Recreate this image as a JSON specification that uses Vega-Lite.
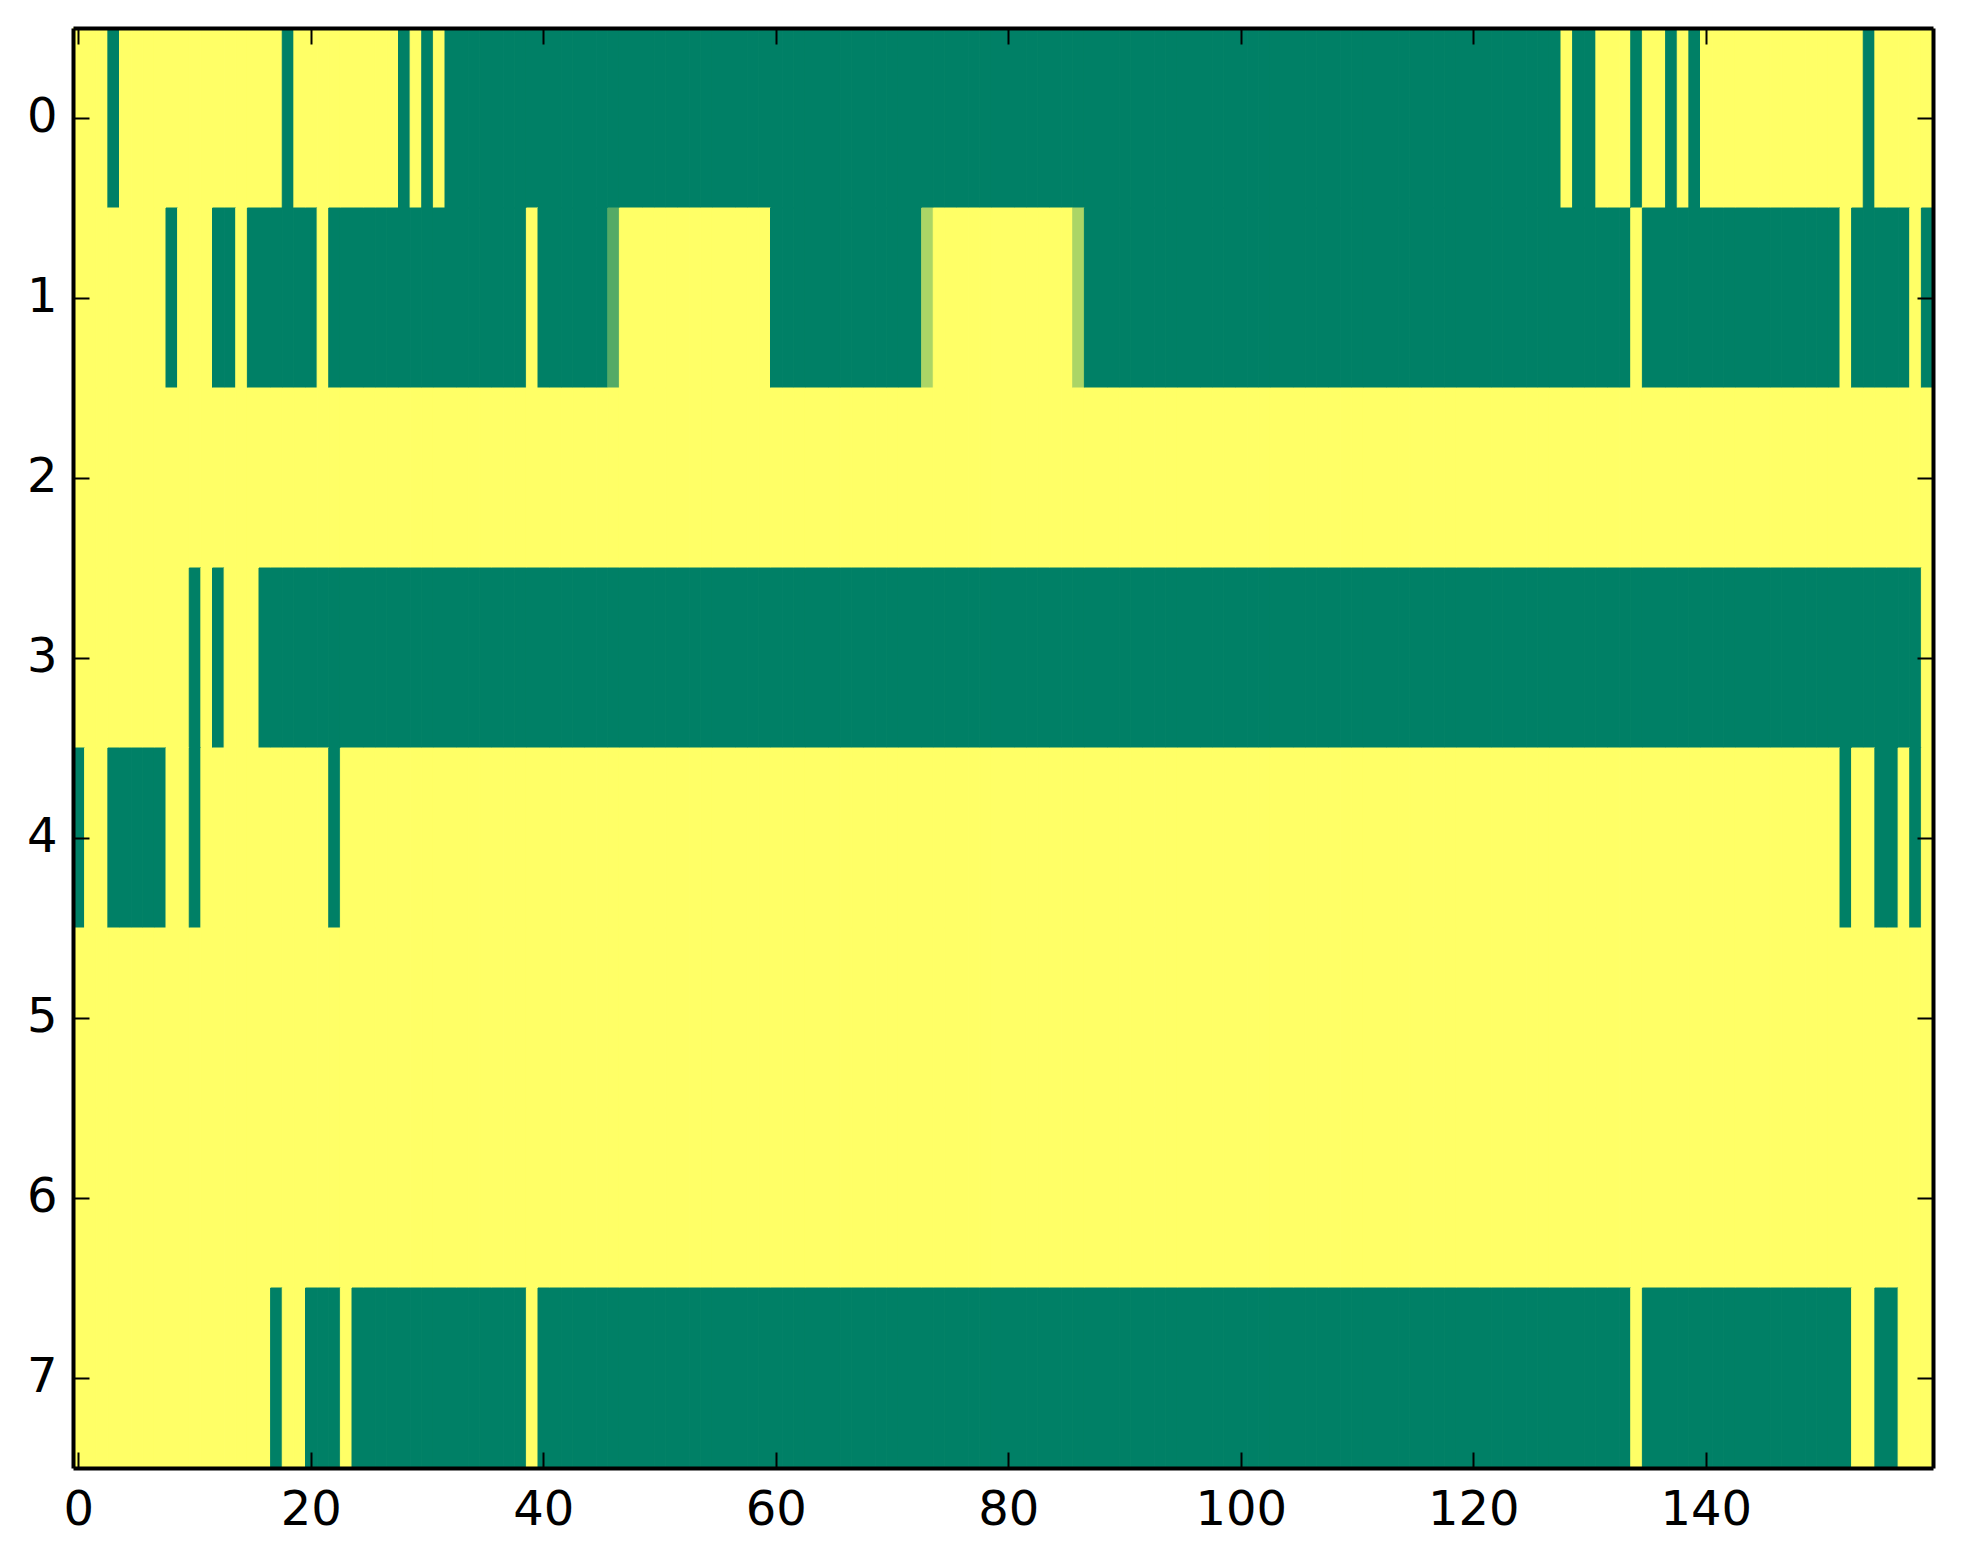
{
"$schema":"https://vega.github.io/schema/vega-lite/v6.json",
"width":1860,
"height":1440,
"autosize":"none",
"padding":{"left":73,"top":28,"right":30,"bottom":96},
"background":"#ffffff",
"config":{"view":{"stroke":null},"font":"DejaVu Sans"},
"data":{"values":[
{"r":0,"c":0,"v":0},{"r":0,"c":1,"v":0},{"r":0,"c":2,"v":0},{"r":0,"c":3,"v":1},{"r":0,"c":4,"v":0},{"r":0,"c":5,"v":0},{"r":0,"c":6,"v":0},{"r":0,"c":7,"v":0},{"r":0,"c":8,"v":0},{"r":0,"c":9,"v":0},
{"r":0,"c":10,"v":0},{"r":0,"c":11,"v":0},{"r":0,"c":12,"v":0},{"r":0,"c":13,"v":0},{"r":0,"c":14,"v":0},{"r":0,"c":15,"v":0},{"r":0,"c":16,"v":0},{"r":0,"c":17,"v":0},{"r":0,"c":18,"v":1},{"r":0,"c":19,"v":0},
{"r":0,"c":20,"v":0},{"r":0,"c":21,"v":0},{"r":0,"c":22,"v":0},{"r":0,"c":23,"v":0},{"r":0,"c":24,"v":0},{"r":0,"c":25,"v":0},{"r":0,"c":26,"v":0},{"r":0,"c":27,"v":0},{"r":0,"c":28,"v":1},{"r":0,"c":29,"v":0},
{"r":0,"c":30,"v":1},{"r":0,"c":31,"v":0},{"r":0,"c":32,"v":1},{"r":0,"c":33,"v":1},{"r":0,"c":34,"v":1},{"r":0,"c":35,"v":1},{"r":0,"c":36,"v":1},{"r":0,"c":37,"v":1},{"r":0,"c":38,"v":1},{"r":0,"c":39,"v":1},
{"r":0,"c":40,"v":1},{"r":0,"c":41,"v":1},{"r":0,"c":42,"v":1},{"r":0,"c":43,"v":1},{"r":0,"c":44,"v":1},{"r":0,"c":45,"v":1},{"r":0,"c":46,"v":1},{"r":0,"c":47,"v":1},{"r":0,"c":48,"v":1},{"r":0,"c":49,"v":1},
{"r":0,"c":50,"v":1},{"r":0,"c":51,"v":1},{"r":0,"c":52,"v":1},{"r":0,"c":53,"v":1},{"r":0,"c":54,"v":1},{"r":0,"c":55,"v":1},{"r":0,"c":56,"v":1},{"r":0,"c":57,"v":1},{"r":0,"c":58,"v":1},{"r":0,"c":59,"v":1},
{"r":0,"c":60,"v":1},{"r":0,"c":61,"v":1},{"r":0,"c":62,"v":1},{"r":0,"c":63,"v":1},{"r":0,"c":64,"v":1},{"r":0,"c":65,"v":1},{"r":0,"c":66,"v":1},{"r":0,"c":67,"v":1},{"r":0,"c":68,"v":1},{"r":0,"c":69,"v":1},
{"r":0,"c":70,"v":1},{"r":0,"c":71,"v":1},{"r":0,"c":72,"v":1},{"r":0,"c":73,"v":1},{"r":0,"c":74,"v":1},{"r":0,"c":75,"v":1},{"r":0,"c":76,"v":1},{"r":0,"c":77,"v":1},{"r":0,"c":78,"v":1},{"r":0,"c":79,"v":1},
{"r":0,"c":80,"v":1},{"r":0,"c":81,"v":1},{"r":0,"c":82,"v":1},{"r":0,"c":83,"v":1},{"r":0,"c":84,"v":1},{"r":0,"c":85,"v":1},{"r":0,"c":86,"v":1},{"r":0,"c":87,"v":1},{"r":0,"c":88,"v":1},{"r":0,"c":89,"v":1},
{"r":0,"c":90,"v":1},{"r":0,"c":91,"v":1},{"r":0,"c":92,"v":1},{"r":0,"c":93,"v":1},{"r":0,"c":94,"v":1},{"r":0,"c":95,"v":1},{"r":0,"c":96,"v":1},{"r":0,"c":97,"v":1},{"r":0,"c":98,"v":1},{"r":0,"c":99,"v":1},
{"r":0,"c":100,"v":1},{"r":0,"c":101,"v":1},{"r":0,"c":102,"v":1},{"r":0,"c":103,"v":1},{"r":0,"c":104,"v":1},{"r":0,"c":105,"v":1},{"r":0,"c":106,"v":1},{"r":0,"c":107,"v":1},{"r":0,"c":108,"v":1},{"r":0,"c":109,"v":1},
{"r":0,"c":110,"v":1},{"r":0,"c":111,"v":1},{"r":0,"c":112,"v":1},{"r":0,"c":113,"v":1},{"r":0,"c":114,"v":1},{"r":0,"c":115,"v":1},{"r":0,"c":116,"v":1},{"r":0,"c":117,"v":1},{"r":0,"c":118,"v":1},{"r":0,"c":119,"v":1},
{"r":0,"c":120,"v":1},{"r":0,"c":121,"v":1},{"r":0,"c":122,"v":1},{"r":0,"c":123,"v":1},{"r":0,"c":124,"v":1},{"r":0,"c":125,"v":1},{"r":0,"c":126,"v":1},{"r":0,"c":127,"v":1},{"r":0,"c":128,"v":0},{"r":0,"c":129,"v":1},
{"r":0,"c":130,"v":1},{"r":0,"c":131,"v":0},{"r":0,"c":132,"v":0},{"r":0,"c":133,"v":0},{"r":0,"c":134,"v":1},{"r":0,"c":135,"v":0},{"r":0,"c":136,"v":0},{"r":0,"c":137,"v":1},{"r":0,"c":138,"v":0},{"r":0,"c":139,"v":1},
{"r":0,"c":140,"v":0},{"r":0,"c":141,"v":0},{"r":0,"c":142,"v":0},{"r":0,"c":143,"v":0},{"r":0,"c":144,"v":0},{"r":0,"c":145,"v":0},{"r":0,"c":146,"v":0},{"r":0,"c":147,"v":0},{"r":0,"c":148,"v":0},{"r":0,"c":149,"v":0},
{"r":0,"c":150,"v":0},{"r":0,"c":151,"v":0},{"r":0,"c":152,"v":0},{"r":0,"c":153,"v":0},{"r":0,"c":154,"v":1},{"r":0,"c":155,"v":0},{"r":0,"c":156,"v":0},{"r":0,"c":157,"v":0},{"r":0,"c":158,"v":0},{"r":0,"c":159,"v":0},
{"r":1,"c":0,"v":0},{"r":1,"c":1,"v":0},{"r":1,"c":2,"v":0},{"r":1,"c":3,"v":0},{"r":1,"c":4,"v":0},{"r":1,"c":5,"v":0},{"r":1,"c":6,"v":0},{"r":1,"c":7,"v":0},{"r":1,"c":8,"v":1},{"r":1,"c":9,"v":0},
{"r":1,"c":10,"v":0},{"r":1,"c":11,"v":0},{"r":1,"c":12,"v":1},{"r":1,"c":13,"v":1},{"r":1,"c":14,"v":0},{"r":1,"c":15,"v":1},{"r":1,"c":16,"v":1},{"r":1,"c":17,"v":1},{"r":1,"c":18,"v":1},{"r":1,"c":19,"v":1},
{"r":1,"c":20,"v":1},{"r":1,"c":21,"v":0},{"r":1,"c":22,"v":1},{"r":1,"c":23,"v":1},{"r":1,"c":24,"v":1},{"r":1,"c":25,"v":1},{"r":1,"c":26,"v":1},{"r":1,"c":27,"v":1},{"r":1,"c":28,"v":1},{"r":1,"c":29,"v":1},
{"r":1,"c":30,"v":1},{"r":1,"c":31,"v":1},{"r":1,"c":32,"v":1},{"r":1,"c":33,"v":1},{"r":1,"c":34,"v":1},{"r":1,"c":35,"v":1},{"r":1,"c":36,"v":1},{"r":1,"c":37,"v":1},{"r":1,"c":38,"v":1},{"r":1,"c":39,"v":0},
{"r":1,"c":40,"v":1},{"r":1,"c":41,"v":1},{"r":1,"c":42,"v":1},{"r":1,"c":43,"v":1},{"r":1,"c":44,"v":1},{"r":1,"c":45,"v":1},{"r":1,"c":46,"v":0.67},{"r":1,"c":47,"v":0},{"r":1,"c":48,"v":0},{"r":1,"c":49,"v":0},
{"r":1,"c":50,"v":0},{"r":1,"c":51,"v":0},{"r":1,"c":52,"v":0},{"r":1,"c":53,"v":0},{"r":1,"c":54,"v":0},{"r":1,"c":55,"v":0},{"r":1,"c":56,"v":0},{"r":1,"c":57,"v":0},{"r":1,"c":58,"v":0},{"r":1,"c":59,"v":0},
{"r":1,"c":60,"v":1},{"r":1,"c":61,"v":1},{"r":1,"c":62,"v":1},{"r":1,"c":63,"v":1},{"r":1,"c":64,"v":1},{"r":1,"c":65,"v":1},{"r":1,"c":66,"v":1},{"r":1,"c":67,"v":1},{"r":1,"c":68,"v":1},{"r":1,"c":69,"v":1},
{"r":1,"c":70,"v":1},{"r":1,"c":71,"v":1},{"r":1,"c":72,"v":1},{"r":1,"c":73,"v":0.33},{"r":1,"c":74,"v":0},{"r":1,"c":75,"v":0},{"r":1,"c":76,"v":0},{"r":1,"c":77,"v":0},{"r":1,"c":78,"v":0},{"r":1,"c":79,"v":0},
{"r":1,"c":80,"v":0},{"r":1,"c":81,"v":0},{"r":1,"c":82,"v":0},{"r":1,"c":83,"v":0},{"r":1,"c":84,"v":0},{"r":1,"c":85,"v":0},{"r":1,"c":86,"v":0.33},{"r":1,"c":87,"v":1},{"r":1,"c":88,"v":1},{"r":1,"c":89,"v":1},
{"r":1,"c":90,"v":1},{"r":1,"c":91,"v":1},{"r":1,"c":92,"v":1},{"r":1,"c":93,"v":1},{"r":1,"c":94,"v":1},{"r":1,"c":95,"v":1},{"r":1,"c":96,"v":1},{"r":1,"c":97,"v":1},{"r":1,"c":98,"v":1},{"r":1,"c":99,"v":1},
{"r":1,"c":100,"v":1},{"r":1,"c":101,"v":1},{"r":1,"c":102,"v":1},{"r":1,"c":103,"v":1},{"r":1,"c":104,"v":1},{"r":1,"c":105,"v":1},{"r":1,"c":106,"v":1},{"r":1,"c":107,"v":1},{"r":1,"c":108,"v":1},{"r":1,"c":109,"v":1},
{"r":1,"c":110,"v":1},{"r":1,"c":111,"v":1},{"r":1,"c":112,"v":1},{"r":1,"c":113,"v":1},{"r":1,"c":114,"v":1},{"r":1,"c":115,"v":1},{"r":1,"c":116,"v":1},{"r":1,"c":117,"v":1},{"r":1,"c":118,"v":1},{"r":1,"c":119,"v":1},
{"r":1,"c":120,"v":1},{"r":1,"c":121,"v":1},{"r":1,"c":122,"v":1},{"r":1,"c":123,"v":1},{"r":1,"c":124,"v":1},{"r":1,"c":125,"v":1},{"r":1,"c":126,"v":1},{"r":1,"c":127,"v":1},{"r":1,"c":128,"v":1},{"r":1,"c":129,"v":1},
{"r":1,"c":130,"v":1},{"r":1,"c":131,"v":1},{"r":1,"c":132,"v":1},{"r":1,"c":133,"v":1},{"r":1,"c":134,"v":0},{"r":1,"c":135,"v":1},{"r":1,"c":136,"v":1},{"r":1,"c":137,"v":1},{"r":1,"c":138,"v":1},{"r":1,"c":139,"v":1},
{"r":1,"c":140,"v":1},{"r":1,"c":141,"v":1},{"r":1,"c":142,"v":1},{"r":1,"c":143,"v":1},{"r":1,"c":144,"v":1},{"r":1,"c":145,"v":1},{"r":1,"c":146,"v":1},{"r":1,"c":147,"v":1},{"r":1,"c":148,"v":1},{"r":1,"c":149,"v":1},
{"r":1,"c":150,"v":1},{"r":1,"c":151,"v":1},{"r":1,"c":152,"v":0},{"r":1,"c":153,"v":1},{"r":1,"c":154,"v":1},{"r":1,"c":155,"v":1},{"r":1,"c":156,"v":1},{"r":1,"c":157,"v":1},{"r":1,"c":158,"v":0},{"r":1,"c":159,"v":1},
{"r":2,"c":0,"v":0},{"r":2,"c":1,"v":0},{"r":2,"c":2,"v":0},{"r":2,"c":3,"v":0},{"r":2,"c":4,"v":0},{"r":2,"c":5,"v":0},{"r":2,"c":6,"v":0},{"r":2,"c":7,"v":0},{"r":2,"c":8,"v":0},{"r":2,"c":9,"v":0},
{"r":2,"c":10,"v":0},{"r":2,"c":11,"v":0},{"r":2,"c":12,"v":0},{"r":2,"c":13,"v":0},{"r":2,"c":14,"v":0},{"r":2,"c":15,"v":0},{"r":2,"c":16,"v":0},{"r":2,"c":17,"v":0},{"r":2,"c":18,"v":0},{"r":2,"c":19,"v":0},
{"r":2,"c":20,"v":0},{"r":2,"c":21,"v":0},{"r":2,"c":22,"v":0},{"r":2,"c":23,"v":0},{"r":2,"c":24,"v":0},{"r":2,"c":25,"v":0},{"r":2,"c":26,"v":0},{"r":2,"c":27,"v":0},{"r":2,"c":28,"v":0},{"r":2,"c":29,"v":0},
{"r":2,"c":30,"v":0},{"r":2,"c":31,"v":0},{"r":2,"c":32,"v":0},{"r":2,"c":33,"v":0},{"r":2,"c":34,"v":0},{"r":2,"c":35,"v":0},{"r":2,"c":36,"v":0},{"r":2,"c":37,"v":0},{"r":2,"c":38,"v":0},{"r":2,"c":39,"v":0},
{"r":2,"c":40,"v":0},{"r":2,"c":41,"v":0},{"r":2,"c":42,"v":0},{"r":2,"c":43,"v":0},{"r":2,"c":44,"v":0},{"r":2,"c":45,"v":0},{"r":2,"c":46,"v":0},{"r":2,"c":47,"v":0},{"r":2,"c":48,"v":0},{"r":2,"c":49,"v":0},
{"r":2,"c":50,"v":0},{"r":2,"c":51,"v":0},{"r":2,"c":52,"v":0},{"r":2,"c":53,"v":0},{"r":2,"c":54,"v":0},{"r":2,"c":55,"v":0},{"r":2,"c":56,"v":0},{"r":2,"c":57,"v":0},{"r":2,"c":58,"v":0},{"r":2,"c":59,"v":0},
{"r":2,"c":60,"v":0},{"r":2,"c":61,"v":0},{"r":2,"c":62,"v":0},{"r":2,"c":63,"v":0},{"r":2,"c":64,"v":0},{"r":2,"c":65,"v":0},{"r":2,"c":66,"v":0},{"r":2,"c":67,"v":0},{"r":2,"c":68,"v":0},{"r":2,"c":69,"v":0},
{"r":2,"c":70,"v":0},{"r":2,"c":71,"v":0},{"r":2,"c":72,"v":0},{"r":2,"c":73,"v":0},{"r":2,"c":74,"v":0},{"r":2,"c":75,"v":0},{"r":2,"c":76,"v":0},{"r":2,"c":77,"v":0},{"r":2,"c":78,"v":0},{"r":2,"c":79,"v":0},
{"r":2,"c":80,"v":0},{"r":2,"c":81,"v":0},{"r":2,"c":82,"v":0},{"r":2,"c":83,"v":0},{"r":2,"c":84,"v":0},{"r":2,"c":85,"v":0},{"r":2,"c":86,"v":0},{"r":2,"c":87,"v":0},{"r":2,"c":88,"v":0},{"r":2,"c":89,"v":0},
{"r":2,"c":90,"v":0},{"r":2,"c":91,"v":0},{"r":2,"c":92,"v":0},{"r":2,"c":93,"v":0},{"r":2,"c":94,"v":0},{"r":2,"c":95,"v":0},{"r":2,"c":96,"v":0},{"r":2,"c":97,"v":0},{"r":2,"c":98,"v":0},{"r":2,"c":99,"v":0},
{"r":2,"c":100,"v":0},{"r":2,"c":101,"v":0},{"r":2,"c":102,"v":0},{"r":2,"c":103,"v":0},{"r":2,"c":104,"v":0},{"r":2,"c":105,"v":0},{"r":2,"c":106,"v":0},{"r":2,"c":107,"v":0},{"r":2,"c":108,"v":0},{"r":2,"c":109,"v":0},
{"r":2,"c":110,"v":0},{"r":2,"c":111,"v":0},{"r":2,"c":112,"v":0},{"r":2,"c":113,"v":0},{"r":2,"c":114,"v":0},{"r":2,"c":115,"v":0},{"r":2,"c":116,"v":0},{"r":2,"c":117,"v":0},{"r":2,"c":118,"v":0},{"r":2,"c":119,"v":0},
{"r":2,"c":120,"v":0},{"r":2,"c":121,"v":0},{"r":2,"c":122,"v":0},{"r":2,"c":123,"v":0},{"r":2,"c":124,"v":0},{"r":2,"c":125,"v":0},{"r":2,"c":126,"v":0},{"r":2,"c":127,"v":0},{"r":2,"c":128,"v":0},{"r":2,"c":129,"v":0},
{"r":2,"c":130,"v":0},{"r":2,"c":131,"v":0},{"r":2,"c":132,"v":0},{"r":2,"c":133,"v":0},{"r":2,"c":134,"v":0},{"r":2,"c":135,"v":0},{"r":2,"c":136,"v":0},{"r":2,"c":137,"v":0},{"r":2,"c":138,"v":0},{"r":2,"c":139,"v":0},
{"r":2,"c":140,"v":0},{"r":2,"c":141,"v":0},{"r":2,"c":142,"v":0},{"r":2,"c":143,"v":0},{"r":2,"c":144,"v":0},{"r":2,"c":145,"v":0},{"r":2,"c":146,"v":0},{"r":2,"c":147,"v":0},{"r":2,"c":148,"v":0},{"r":2,"c":149,"v":0},
{"r":2,"c":150,"v":0},{"r":2,"c":151,"v":0},{"r":2,"c":152,"v":0},{"r":2,"c":153,"v":0},{"r":2,"c":154,"v":0},{"r":2,"c":155,"v":0},{"r":2,"c":156,"v":0},{"r":2,"c":157,"v":0},{"r":2,"c":158,"v":0},{"r":2,"c":159,"v":0},
{"r":3,"c":0,"v":0},{"r":3,"c":1,"v":0},{"r":3,"c":2,"v":0},{"r":3,"c":3,"v":0},{"r":3,"c":4,"v":0},{"r":3,"c":5,"v":0},{"r":3,"c":6,"v":0},{"r":3,"c":7,"v":0},{"r":3,"c":8,"v":0},{"r":3,"c":9,"v":0},
{"r":3,"c":10,"v":1},{"r":3,"c":11,"v":0},{"r":3,"c":12,"v":1},{"r":3,"c":13,"v":0},{"r":3,"c":14,"v":0},{"r":3,"c":15,"v":0},{"r":3,"c":16,"v":1},{"r":3,"c":17,"v":1},{"r":3,"c":18,"v":1},{"r":3,"c":19,"v":1},
{"r":3,"c":20,"v":1},{"r":3,"c":21,"v":1},{"r":3,"c":22,"v":1},{"r":3,"c":23,"v":1},{"r":3,"c":24,"v":1},{"r":3,"c":25,"v":1},{"r":3,"c":26,"v":1},{"r":3,"c":27,"v":1},{"r":3,"c":28,"v":1},{"r":3,"c":29,"v":1},
{"r":3,"c":30,"v":1},{"r":3,"c":31,"v":1},{"r":3,"c":32,"v":1},{"r":3,"c":33,"v":1},{"r":3,"c":34,"v":1},{"r":3,"c":35,"v":1},{"r":3,"c":36,"v":1},{"r":3,"c":37,"v":1},{"r":3,"c":38,"v":1},{"r":3,"c":39,"v":1},
{"r":3,"c":40,"v":1},{"r":3,"c":41,"v":1},{"r":3,"c":42,"v":1},{"r":3,"c":43,"v":1},{"r":3,"c":44,"v":1},{"r":3,"c":45,"v":1},{"r":3,"c":46,"v":1},{"r":3,"c":47,"v":1},{"r":3,"c":48,"v":1},{"r":3,"c":49,"v":1},
{"r":3,"c":50,"v":1},{"r":3,"c":51,"v":1},{"r":3,"c":52,"v":1},{"r":3,"c":53,"v":1},{"r":3,"c":54,"v":1},{"r":3,"c":55,"v":1},{"r":3,"c":56,"v":1},{"r":3,"c":57,"v":1},{"r":3,"c":58,"v":1},{"r":3,"c":59,"v":1},
{"r":3,"c":60,"v":1},{"r":3,"c":61,"v":1},{"r":3,"c":62,"v":1},{"r":3,"c":63,"v":1},{"r":3,"c":64,"v":1},{"r":3,"c":65,"v":1},{"r":3,"c":66,"v":1},{"r":3,"c":67,"v":1},{"r":3,"c":68,"v":1},{"r":3,"c":69,"v":1},
{"r":3,"c":70,"v":1},{"r":3,"c":71,"v":1},{"r":3,"c":72,"v":1},{"r":3,"c":73,"v":1},{"r":3,"c":74,"v":1},{"r":3,"c":75,"v":1},{"r":3,"c":76,"v":1},{"r":3,"c":77,"v":1},{"r":3,"c":78,"v":1},{"r":3,"c":79,"v":1},
{"r":3,"c":80,"v":1},{"r":3,"c":81,"v":1},{"r":3,"c":82,"v":1},{"r":3,"c":83,"v":1},{"r":3,"c":84,"v":1},{"r":3,"c":85,"v":1},{"r":3,"c":86,"v":1},{"r":3,"c":87,"v":1},{"r":3,"c":88,"v":1},{"r":3,"c":89,"v":1},
{"r":3,"c":90,"v":1},{"r":3,"c":91,"v":1},{"r":3,"c":92,"v":1},{"r":3,"c":93,"v":1},{"r":3,"c":94,"v":1},{"r":3,"c":95,"v":1},{"r":3,"c":96,"v":1},{"r":3,"c":97,"v":1},{"r":3,"c":98,"v":1},{"r":3,"c":99,"v":1},
{"r":3,"c":100,"v":1},{"r":3,"c":101,"v":1},{"r":3,"c":102,"v":1},{"r":3,"c":103,"v":1},{"r":3,"c":104,"v":1},{"r":3,"c":105,"v":1},{"r":3,"c":106,"v":1},{"r":3,"c":107,"v":1},{"r":3,"c":108,"v":1},{"r":3,"c":109,"v":1},
{"r":3,"c":110,"v":1},{"r":3,"c":111,"v":1},{"r":3,"c":112,"v":1},{"r":3,"c":113,"v":1},{"r":3,"c":114,"v":1},{"r":3,"c":115,"v":1},{"r":3,"c":116,"v":1},{"r":3,"c":117,"v":1},{"r":3,"c":118,"v":1},{"r":3,"c":119,"v":1},
{"r":3,"c":120,"v":1},{"r":3,"c":121,"v":1},{"r":3,"c":122,"v":1},{"r":3,"c":123,"v":1},{"r":3,"c":124,"v":1},{"r":3,"c":125,"v":1},{"r":3,"c":126,"v":1},{"r":3,"c":127,"v":1},{"r":3,"c":128,"v":1},{"r":3,"c":129,"v":1},
{"r":3,"c":130,"v":1},{"r":3,"c":131,"v":1},{"r":3,"c":132,"v":1},{"r":3,"c":133,"v":1},{"r":3,"c":134,"v":1},{"r":3,"c":135,"v":1},{"r":3,"c":136,"v":1},{"r":3,"c":137,"v":1},{"r":3,"c":138,"v":1},{"r":3,"c":139,"v":1},
{"r":3,"c":140,"v":1},{"r":3,"c":141,"v":1},{"r":3,"c":142,"v":1},{"r":3,"c":143,"v":1},{"r":3,"c":144,"v":1},{"r":3,"c":145,"v":1},{"r":3,"c":146,"v":1},{"r":3,"c":147,"v":1},{"r":3,"c":148,"v":1},{"r":3,"c":149,"v":1},
{"r":3,"c":150,"v":1},{"r":3,"c":151,"v":1},{"r":3,"c":152,"v":1},{"r":3,"c":153,"v":1},{"r":3,"c":154,"v":1},{"r":3,"c":155,"v":1},{"r":3,"c":156,"v":1},{"r":3,"c":157,"v":1},{"r":3,"c":158,"v":1},{"r":3,"c":159,"v":0},
{"r":4,"c":0,"v":1},{"r":4,"c":1,"v":0},{"r":4,"c":2,"v":0},{"r":4,"c":3,"v":1},{"r":4,"c":4,"v":1},{"r":4,"c":5,"v":1},{"r":4,"c":6,"v":1},{"r":4,"c":7,"v":1},{"r":4,"c":8,"v":0},{"r":4,"c":9,"v":0},
{"r":4,"c":10,"v":1},{"r":4,"c":11,"v":0},{"r":4,"c":12,"v":0},{"r":4,"c":13,"v":0},{"r":4,"c":14,"v":0},{"r":4,"c":15,"v":0},{"r":4,"c":16,"v":0},{"r":4,"c":17,"v":0},{"r":4,"c":18,"v":0},{"r":4,"c":19,"v":0},
{"r":4,"c":20,"v":0},{"r":4,"c":21,"v":0},{"r":4,"c":22,"v":1},{"r":4,"c":23,"v":0},{"r":4,"c":24,"v":0},{"r":4,"c":25,"v":0},{"r":4,"c":26,"v":0},{"r":4,"c":27,"v":0},{"r":4,"c":28,"v":0},{"r":4,"c":29,"v":0},
{"r":4,"c":30,"v":0},{"r":4,"c":31,"v":0},{"r":4,"c":32,"v":0},{"r":4,"c":33,"v":0},{"r":4,"c":34,"v":0},{"r":4,"c":35,"v":0},{"r":4,"c":36,"v":0},{"r":4,"c":37,"v":0},{"r":4,"c":38,"v":0},{"r":4,"c":39,"v":0},
{"r":4,"c":40,"v":0},{"r":4,"c":41,"v":0},{"r":4,"c":42,"v":0},{"r":4,"c":43,"v":0},{"r":4,"c":44,"v":0},{"r":4,"c":45,"v":0},{"r":4,"c":46,"v":0},{"r":4,"c":47,"v":0},{"r":4,"c":48,"v":0},{"r":4,"c":49,"v":0},
{"r":4,"c":50,"v":0},{"r":4,"c":51,"v":0},{"r":4,"c":52,"v":0},{"r":4,"c":53,"v":0},{"r":4,"c":54,"v":0},{"r":4,"c":55,"v":0},{"r":4,"c":56,"v":0},{"r":4,"c":57,"v":0},{"r":4,"c":58,"v":0},{"r":4,"c":59,"v":0},
{"r":4,"c":60,"v":0},{"r":4,"c":61,"v":0},{"r":4,"c":62,"v":0},{"r":4,"c":63,"v":0},{"r":4,"c":64,"v":0},{"r":4,"c":65,"v":0},{"r":4,"c":66,"v":0},{"r":4,"c":67,"v":0},{"r":4,"c":68,"v":0},{"r":4,"c":69,"v":0},
{"r":4,"c":70,"v":0},{"r":4,"c":71,"v":0},{"r":4,"c":72,"v":0},{"r":4,"c":73,"v":0},{"r":4,"c":74,"v":0},{"r":4,"c":75,"v":0},{"r":4,"c":76,"v":0},{"r":4,"c":77,"v":0},{"r":4,"c":78,"v":0},{"r":4,"c":79,"v":0},
{"r":4,"c":80,"v":0},{"r":4,"c":81,"v":0},{"r":4,"c":82,"v":0},{"r":4,"c":83,"v":0},{"r":4,"c":84,"v":0},{"r":4,"c":85,"v":0},{"r":4,"c":86,"v":0},{"r":4,"c":87,"v":0},{"r":4,"c":88,"v":0},{"r":4,"c":89,"v":0},
{"r":4,"c":90,"v":0},{"r":4,"c":91,"v":0},{"r":4,"c":92,"v":0},{"r":4,"c":93,"v":0},{"r":4,"c":94,"v":0},{"r":4,"c":95,"v":0},{"r":4,"c":96,"v":0},{"r":4,"c":97,"v":0},{"r":4,"c":98,"v":0},{"r":4,"c":99,"v":0},
{"r":4,"c":100,"v":0},{"r":4,"c":101,"v":0},{"r":4,"c":102,"v":0},{"r":4,"c":103,"v":0},{"r":4,"c":104,"v":0},{"r":4,"c":105,"v":0},{"r":4,"c":106,"v":0},{"r":4,"c":107,"v":0},{"r":4,"c":108,"v":0},{"r":4,"c":109,"v":0},
{"r":4,"c":110,"v":0},{"r":4,"c":111,"v":0},{"r":4,"c":112,"v":0},{"r":4,"c":113,"v":0},{"r":4,"c":114,"v":0},{"r":4,"c":115,"v":0},{"r":4,"c":116,"v":0},{"r":4,"c":117,"v":0},{"r":4,"c":118,"v":0},{"r":4,"c":119,"v":0},
{"r":4,"c":120,"v":0},{"r":4,"c":121,"v":0},{"r":4,"c":122,"v":0},{"r":4,"c":123,"v":0},{"r":4,"c":124,"v":0},{"r":4,"c":125,"v":0},{"r":4,"c":126,"v":0},{"r":4,"c":127,"v":0},{"r":4,"c":128,"v":0},{"r":4,"c":129,"v":0},
{"r":4,"c":130,"v":0},{"r":4,"c":131,"v":0},{"r":4,"c":132,"v":0},{"r":4,"c":133,"v":0},{"r":4,"c":134,"v":0},{"r":4,"c":135,"v":0},{"r":4,"c":136,"v":0},{"r":4,"c":137,"v":0},{"r":4,"c":138,"v":0},{"r":4,"c":139,"v":0},
{"r":4,"c":140,"v":0},{"r":4,"c":141,"v":0},{"r":4,"c":142,"v":0},{"r":4,"c":143,"v":0},{"r":4,"c":144,"v":0},{"r":4,"c":145,"v":0},{"r":4,"c":146,"v":0},{"r":4,"c":147,"v":0},{"r":4,"c":148,"v":0},{"r":4,"c":149,"v":0},
{"r":4,"c":150,"v":0},{"r":4,"c":151,"v":0},{"r":4,"c":152,"v":1},{"r":4,"c":153,"v":0},{"r":4,"c":154,"v":0},{"r":4,"c":155,"v":1},{"r":4,"c":156,"v":1},{"r":4,"c":157,"v":0},{"r":4,"c":158,"v":1},{"r":4,"c":159,"v":0},
{"r":5,"c":0,"v":0},{"r":5,"c":1,"v":0},{"r":5,"c":2,"v":0},{"r":5,"c":3,"v":0},{"r":5,"c":4,"v":0},{"r":5,"c":5,"v":0},{"r":5,"c":6,"v":0},{"r":5,"c":7,"v":0},{"r":5,"c":8,"v":0},{"r":5,"c":9,"v":0},
{"r":5,"c":10,"v":0},{"r":5,"c":11,"v":0},{"r":5,"c":12,"v":0},{"r":5,"c":13,"v":0},{"r":5,"c":14,"v":0},{"r":5,"c":15,"v":0},{"r":5,"c":16,"v":0},{"r":5,"c":17,"v":0},{"r":5,"c":18,"v":0},{"r":5,"c":19,"v":0},
{"r":5,"c":20,"v":0},{"r":5,"c":21,"v":0},{"r":5,"c":22,"v":0},{"r":5,"c":23,"v":0},{"r":5,"c":24,"v":0},{"r":5,"c":25,"v":0},{"r":5,"c":26,"v":0},{"r":5,"c":27,"v":0},{"r":5,"c":28,"v":0},{"r":5,"c":29,"v":0},
{"r":5,"c":30,"v":0},{"r":5,"c":31,"v":0},{"r":5,"c":32,"v":0},{"r":5,"c":33,"v":0},{"r":5,"c":34,"v":0},{"r":5,"c":35,"v":0},{"r":5,"c":36,"v":0},{"r":5,"c":37,"v":0},{"r":5,"c":38,"v":0},{"r":5,"c":39,"v":0},
{"r":5,"c":40,"v":0},{"r":5,"c":41,"v":0},{"r":5,"c":42,"v":0},{"r":5,"c":43,"v":0},{"r":5,"c":44,"v":0},{"r":5,"c":45,"v":0},{"r":5,"c":46,"v":0},{"r":5,"c":47,"v":0},{"r":5,"c":48,"v":0},{"r":5,"c":49,"v":0},
{"r":5,"c":50,"v":0},{"r":5,"c":51,"v":0},{"r":5,"c":52,"v":0},{"r":5,"c":53,"v":0},{"r":5,"c":54,"v":0},{"r":5,"c":55,"v":0},{"r":5,"c":56,"v":0},{"r":5,"c":57,"v":0},{"r":5,"c":58,"v":0},{"r":5,"c":59,"v":0},
{"r":5,"c":60,"v":0},{"r":5,"c":61,"v":0},{"r":5,"c":62,"v":0},{"r":5,"c":63,"v":0},{"r":5,"c":64,"v":0},{"r":5,"c":65,"v":0},{"r":5,"c":66,"v":0},{"r":5,"c":67,"v":0},{"r":5,"c":68,"v":0},{"r":5,"c":69,"v":0},
{"r":5,"c":70,"v":0},{"r":5,"c":71,"v":0},{"r":5,"c":72,"v":0},{"r":5,"c":73,"v":0},{"r":5,"c":74,"v":0},{"r":5,"c":75,"v":0},{"r":5,"c":76,"v":0},{"r":5,"c":77,"v":0},{"r":5,"c":78,"v":0},{"r":5,"c":79,"v":0},
{"r":5,"c":80,"v":0},{"r":5,"c":81,"v":0},{"r":5,"c":82,"v":0},{"r":5,"c":83,"v":0},{"r":5,"c":84,"v":0},{"r":5,"c":85,"v":0},{"r":5,"c":86,"v":0},{"r":5,"c":87,"v":0},{"r":5,"c":88,"v":0},{"r":5,"c":89,"v":0},
{"r":5,"c":90,"v":0},{"r":5,"c":91,"v":0},{"r":5,"c":92,"v":0},{"r":5,"c":93,"v":0},{"r":5,"c":94,"v":0},{"r":5,"c":95,"v":0},{"r":5,"c":96,"v":0},{"r":5,"c":97,"v":0},{"r":5,"c":98,"v":0},{"r":5,"c":99,"v":0},
{"r":5,"c":100,"v":0},{"r":5,"c":101,"v":0},{"r":5,"c":102,"v":0},{"r":5,"c":103,"v":0},{"r":5,"c":104,"v":0},{"r":5,"c":105,"v":0},{"r":5,"c":106,"v":0},{"r":5,"c":107,"v":0},{"r":5,"c":108,"v":0},{"r":5,"c":109,"v":0},
{"r":5,"c":110,"v":0},{"r":5,"c":111,"v":0},{"r":5,"c":112,"v":0},{"r":5,"c":113,"v":0},{"r":5,"c":114,"v":0},{"r":5,"c":115,"v":0},{"r":5,"c":116,"v":0},{"r":5,"c":117,"v":0},{"r":5,"c":118,"v":0},{"r":5,"c":119,"v":0},
{"r":5,"c":120,"v":0},{"r":5,"c":121,"v":0},{"r":5,"c":122,"v":0},{"r":5,"c":123,"v":0},{"r":5,"c":124,"v":0},{"r":5,"c":125,"v":0},{"r":5,"c":126,"v":0},{"r":5,"c":127,"v":0},{"r":5,"c":128,"v":0},{"r":5,"c":129,"v":0},
{"r":5,"c":130,"v":0},{"r":5,"c":131,"v":0},{"r":5,"c":132,"v":0},{"r":5,"c":133,"v":0},{"r":5,"c":134,"v":0},{"r":5,"c":135,"v":0},{"r":5,"c":136,"v":0},{"r":5,"c":137,"v":0},{"r":5,"c":138,"v":0},{"r":5,"c":139,"v":0},
{"r":5,"c":140,"v":0},{"r":5,"c":141,"v":0},{"r":5,"c":142,"v":0},{"r":5,"c":143,"v":0},{"r":5,"c":144,"v":0},{"r":5,"c":145,"v":0},{"r":5,"c":146,"v":0},{"r":5,"c":147,"v":0},{"r":5,"c":148,"v":0},{"r":5,"c":149,"v":0},
{"r":5,"c":150,"v":0},{"r":5,"c":151,"v":0},{"r":5,"c":152,"v":0},{"r":5,"c":153,"v":0},{"r":5,"c":154,"v":0},{"r":5,"c":155,"v":0},{"r":5,"c":156,"v":0},{"r":5,"c":157,"v":0},{"r":5,"c":158,"v":0},{"r":5,"c":159,"v":0},
{"r":6,"c":0,"v":0},{"r":6,"c":1,"v":0},{"r":6,"c":2,"v":0},{"r":6,"c":3,"v":0},{"r":6,"c":4,"v":0},{"r":6,"c":5,"v":0},{"r":6,"c":6,"v":0},{"r":6,"c":7,"v":0},{"r":6,"c":8,"v":0},{"r":6,"c":9,"v":0},
{"r":6,"c":10,"v":0},{"r":6,"c":11,"v":0},{"r":6,"c":12,"v":0},{"r":6,"c":13,"v":0},{"r":6,"c":14,"v":0},{"r":6,"c":15,"v":0},{"r":6,"c":16,"v":0},{"r":6,"c":17,"v":0},{"r":6,"c":18,"v":0},{"r":6,"c":19,"v":0},
{"r":6,"c":20,"v":0},{"r":6,"c":21,"v":0},{"r":6,"c":22,"v":0},{"r":6,"c":23,"v":0},{"r":6,"c":24,"v":0},{"r":6,"c":25,"v":0},{"r":6,"c":26,"v":0},{"r":6,"c":27,"v":0},{"r":6,"c":28,"v":0},{"r":6,"c":29,"v":0},
{"r":6,"c":30,"v":0},{"r":6,"c":31,"v":0},{"r":6,"c":32,"v":0},{"r":6,"c":33,"v":0},{"r":6,"c":34,"v":0},{"r":6,"c":35,"v":0},{"r":6,"c":36,"v":0},{"r":6,"c":37,"v":0},{"r":6,"c":38,"v":0},{"r":6,"c":39,"v":0},
{"r":6,"c":40,"v":0},{"r":6,"c":41,"v":0},{"r":6,"c":42,"v":0},{"r":6,"c":43,"v":0},{"r":6,"c":44,"v":0},{"r":6,"c":45,"v":0},{"r":6,"c":46,"v":0},{"r":6,"c":47,"v":0},{"r":6,"c":48,"v":0},{"r":6,"c":49,"v":0},
{"r":6,"c":50,"v":0},{"r":6,"c":51,"v":0},{"r":6,"c":52,"v":0},{"r":6,"c":53,"v":0},{"r":6,"c":54,"v":0},{"r":6,"c":55,"v":0},{"r":6,"c":56,"v":0},{"r":6,"c":57,"v":0},{"r":6,"c":58,"v":0},{"r":6,"c":59,"v":0},
{"r":6,"c":60,"v":0},{"r":6,"c":61,"v":0},{"r":6,"c":62,"v":0},{"r":6,"c":63,"v":0},{"r":6,"c":64,"v":0},{"r":6,"c":65,"v":0},{"r":6,"c":66,"v":0},{"r":6,"c":67,"v":0},{"r":6,"c":68,"v":0},{"r":6,"c":69,"v":0},
{"r":6,"c":70,"v":0},{"r":6,"c":71,"v":0},{"r":6,"c":72,"v":0},{"r":6,"c":73,"v":0},{"r":6,"c":74,"v":0},{"r":6,"c":75,"v":0},{"r":6,"c":76,"v":0},{"r":6,"c":77,"v":0},{"r":6,"c":78,"v":0},{"r":6,"c":79,"v":0},
{"r":6,"c":80,"v":0},{"r":6,"c":81,"v":0},{"r":6,"c":82,"v":0},{"r":6,"c":83,"v":0},{"r":6,"c":84,"v":0},{"r":6,"c":85,"v":0},{"r":6,"c":86,"v":0},{"r":6,"c":87,"v":0},{"r":6,"c":88,"v":0},{"r":6,"c":89,"v":0},
{"r":6,"c":90,"v":0},{"r":6,"c":91,"v":0},{"r":6,"c":92,"v":0},{"r":6,"c":93,"v":0},{"r":6,"c":94,"v":0},{"r":6,"c":95,"v":0},{"r":6,"c":96,"v":0},{"r":6,"c":97,"v":0},{"r":6,"c":98,"v":0},{"r":6,"c":99,"v":0},
{"r":6,"c":100,"v":0},{"r":6,"c":101,"v":0},{"r":6,"c":102,"v":0},{"r":6,"c":103,"v":0},{"r":6,"c":104,"v":0},{"r":6,"c":105,"v":0},{"r":6,"c":106,"v":0},{"r":6,"c":107,"v":0},{"r":6,"c":108,"v":0},{"r":6,"c":109,"v":0},
{"r":6,"c":110,"v":0},{"r":6,"c":111,"v":0},{"r":6,"c":112,"v":0},{"r":6,"c":113,"v":0},{"r":6,"c":114,"v":0},{"r":6,"c":115,"v":0},{"r":6,"c":116,"v":0},{"r":6,"c":117,"v":0},{"r":6,"c":118,"v":0},{"r":6,"c":119,"v":0},
{"r":6,"c":120,"v":0},{"r":6,"c":121,"v":0},{"r":6,"c":122,"v":0},{"r":6,"c":123,"v":0},{"r":6,"c":124,"v":0},{"r":6,"c":125,"v":0},{"r":6,"c":126,"v":0},{"r":6,"c":127,"v":0},{"r":6,"c":128,"v":0},{"r":6,"c":129,"v":0},
{"r":6,"c":130,"v":0},{"r":6,"c":131,"v":0},{"r":6,"c":132,"v":0},{"r":6,"c":133,"v":0},{"r":6,"c":134,"v":0},{"r":6,"c":135,"v":0},{"r":6,"c":136,"v":0},{"r":6,"c":137,"v":0},{"r":6,"c":138,"v":0},{"r":6,"c":139,"v":0},
{"r":6,"c":140,"v":0},{"r":6,"c":141,"v":0},{"r":6,"c":142,"v":0},{"r":6,"c":143,"v":0},{"r":6,"c":144,"v":0},{"r":6,"c":145,"v":0},{"r":6,"c":146,"v":0},{"r":6,"c":147,"v":0},{"r":6,"c":148,"v":0},{"r":6,"c":149,"v":0},
{"r":6,"c":150,"v":0},{"r":6,"c":151,"v":0},{"r":6,"c":152,"v":0},{"r":6,"c":153,"v":0},{"r":6,"c":154,"v":0},{"r":6,"c":155,"v":0},{"r":6,"c":156,"v":0},{"r":6,"c":157,"v":0},{"r":6,"c":158,"v":0},{"r":6,"c":159,"v":0},
{"r":7,"c":0,"v":0},{"r":7,"c":1,"v":0},{"r":7,"c":2,"v":0},{"r":7,"c":3,"v":0},{"r":7,"c":4,"v":0},{"r":7,"c":5,"v":0},{"r":7,"c":6,"v":0},{"r":7,"c":7,"v":0},{"r":7,"c":8,"v":0},{"r":7,"c":9,"v":0},
{"r":7,"c":10,"v":0},{"r":7,"c":11,"v":0},{"r":7,"c":12,"v":0},{"r":7,"c":13,"v":0},{"r":7,"c":14,"v":0},{"r":7,"c":15,"v":0},{"r":7,"c":16,"v":0},{"r":7,"c":17,"v":1},{"r":7,"c":18,"v":0},{"r":7,"c":19,"v":0},
{"r":7,"c":20,"v":1},{"r":7,"c":21,"v":1},{"r":7,"c":22,"v":1},{"r":7,"c":23,"v":0},{"r":7,"c":24,"v":1},{"r":7,"c":25,"v":1},{"r":7,"c":26,"v":1},{"r":7,"c":27,"v":1},{"r":7,"c":28,"v":1},{"r":7,"c":29,"v":1},
{"r":7,"c":30,"v":1},{"r":7,"c":31,"v":1},{"r":7,"c":32,"v":1},{"r":7,"c":33,"v":1},{"r":7,"c":34,"v":1},{"r":7,"c":35,"v":1},{"r":7,"c":36,"v":1},{"r":7,"c":37,"v":1},{"r":7,"c":38,"v":1},{"r":7,"c":39,"v":0},
{"r":7,"c":40,"v":1},{"r":7,"c":41,"v":1},{"r":7,"c":42,"v":1},{"r":7,"c":43,"v":1},{"r":7,"c":44,"v":1},{"r":7,"c":45,"v":1},{"r":7,"c":46,"v":1},{"r":7,"c":47,"v":1},{"r":7,"c":48,"v":1},{"r":7,"c":49,"v":1},
{"r":7,"c":50,"v":1},{"r":7,"c":51,"v":1},{"r":7,"c":52,"v":1},{"r":7,"c":53,"v":1},{"r":7,"c":54,"v":1},{"r":7,"c":55,"v":1},{"r":7,"c":56,"v":1},{"r":7,"c":57,"v":1},{"r":7,"c":58,"v":1},{"r":7,"c":59,"v":1},
{"r":7,"c":60,"v":1},{"r":7,"c":61,"v":1},{"r":7,"c":62,"v":1},{"r":7,"c":63,"v":1},{"r":7,"c":64,"v":1},{"r":7,"c":65,"v":1},{"r":7,"c":66,"v":1},{"r":7,"c":67,"v":1},{"r":7,"c":68,"v":1},{"r":7,"c":69,"v":1},
{"r":7,"c":70,"v":1},{"r":7,"c":71,"v":1},{"r":7,"c":72,"v":1},{"r":7,"c":73,"v":1},{"r":7,"c":74,"v":1},{"r":7,"c":75,"v":1},{"r":7,"c":76,"v":1},{"r":7,"c":77,"v":1},{"r":7,"c":78,"v":1},{"r":7,"c":79,"v":1},
{"r":7,"c":80,"v":1},{"r":7,"c":81,"v":1},{"r":7,"c":82,"v":1},{"r":7,"c":83,"v":1},{"r":7,"c":84,"v":1},{"r":7,"c":85,"v":1},{"r":7,"c":86,"v":1},{"r":7,"c":87,"v":1},{"r":7,"c":88,"v":1},{"r":7,"c":89,"v":1},
{"r":7,"c":90,"v":1},{"r":7,"c":91,"v":1},{"r":7,"c":92,"v":1},{"r":7,"c":93,"v":1},{"r":7,"c":94,"v":1},{"r":7,"c":95,"v":1},{"r":7,"c":96,"v":1},{"r":7,"c":97,"v":1},{"r":7,"c":98,"v":1},{"r":7,"c":99,"v":1},
{"r":7,"c":100,"v":1},{"r":7,"c":101,"v":1},{"r":7,"c":102,"v":1},{"r":7,"c":103,"v":1},{"r":7,"c":104,"v":1},{"r":7,"c":105,"v":1},{"r":7,"c":106,"v":1},{"r":7,"c":107,"v":1},{"r":7,"c":108,"v":1},{"r":7,"c":109,"v":1},
{"r":7,"c":110,"v":1},{"r":7,"c":111,"v":1},{"r":7,"c":112,"v":1},{"r":7,"c":113,"v":1},{"r":7,"c":114,"v":1},{"r":7,"c":115,"v":1},{"r":7,"c":116,"v":1},{"r":7,"c":117,"v":1},{"r":7,"c":118,"v":1},{"r":7,"c":119,"v":1},
{"r":7,"c":120,"v":1},{"r":7,"c":121,"v":1},{"r":7,"c":122,"v":1},{"r":7,"c":123,"v":1},{"r":7,"c":124,"v":1},{"r":7,"c":125,"v":1},{"r":7,"c":126,"v":1},{"r":7,"c":127,"v":1},{"r":7,"c":128,"v":1},{"r":7,"c":129,"v":1},
{"r":7,"c":130,"v":1},{"r":7,"c":131,"v":1},{"r":7,"c":132,"v":1},{"r":7,"c":133,"v":1},{"r":7,"c":134,"v":0},{"r":7,"c":135,"v":1},{"r":7,"c":136,"v":1},{"r":7,"c":137,"v":1},{"r":7,"c":138,"v":1},{"r":7,"c":139,"v":1},
{"r":7,"c":140,"v":1},{"r":7,"c":141,"v":1},{"r":7,"c":142,"v":1},{"r":7,"c":143,"v":1},{"r":7,"c":144,"v":1},{"r":7,"c":145,"v":1},{"r":7,"c":146,"v":1},{"r":7,"c":147,"v":1},{"r":7,"c":148,"v":1},{"r":7,"c":149,"v":1},
{"r":7,"c":150,"v":1},{"r":7,"c":151,"v":1},{"r":7,"c":152,"v":1},{"r":7,"c":153,"v":0},{"r":7,"c":154,"v":0},{"r":7,"c":155,"v":1},{"r":7,"c":156,"v":1},{"r":7,"c":157,"v":0},{"r":7,"c":158,"v":0},{"r":7,"c":159,"v":0}
]},
"layer":[
{
"mark":{"type":"rect","strokeWidth":1},
"encoding":{
"x":{"field":"c","type":"ordinal","scale":{"paddingInner":0,"paddingOuter":0},
"axis":{"orient":"bottom","title":null,"values":[0,20,40,60,80,100,120,140],"labelAngle":0,"labelFont":"DejaVu Sans","labelFontSize":48,"labelColor":"#000000","labelPadding":34,"tickSize":-16,"tickWidth":2,"tickColor":"#000000","domain":true,"domainColor":"#000000","domainWidth":4,"grid":false,"labelOverlap":false,"zindex":1}},
"y":{"field":"r","type":"ordinal","scale":{"paddingInner":0,"paddingOuter":0},
"axis":{"orient":"left","title":null,"labelFont":"DejaVu Sans","labelFontSize":48,"labelColor":"#000000","labelPadding":32,"tickSize":-16,"tickWidth":2,"tickColor":"#000000","domain":true,"domainColor":"#000000","domainWidth":4,"grid":false,"labelOverlap":false,"zindex":1}},
"fill":{"field":"v","type":"quantitative","scale":{"domain":[0,1],"range":["#ffff66","#008066"],"interpolate":"rgb"},"legend":null},
"stroke":{"field":"v","type":"quantitative","scale":{"domain":[0,1],"range":["#ffff66","#008066"],"interpolate":"rgb"},"legend":null}
}
},
{
"transform":[{"filter":"datum.r < 0"}],
"mark":{"type":"rect"},
"encoding":{
"x":{"field":"c","type":"ordinal",
"axis":{"orient":"top","title":null,"values":[0,20,40,60,80,100,120,140],"labels":false,"tickSize":-16,"tickWidth":2,"tickColor":"#000000","domain":true,"domainColor":"#000000","domainWidth":4,"grid":false,"zindex":1}},
"y":{"field":"r","type":"ordinal",
"axis":{"orient":"right","title":null,"labels":false,"tickSize":-16,"tickWidth":2,"tickColor":"#000000","domain":true,"domainColor":"#000000","domainWidth":4,"grid":false,"zindex":1}}
}
}
],
"resolve":{"axis":{"x":"independent","y":"independent"}}
}
